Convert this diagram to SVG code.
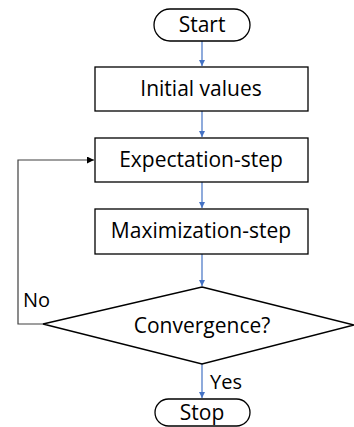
<svg xmlns="http://www.w3.org/2000/svg" width="354" height="427" viewBox="0 0 354 427">
  <style>
    .box { fill: #ffffff; stroke: #000000; stroke-width: 1.3; }
    .lbl { font-family: "Open Sans", "Liberation Sans", sans-serif; font-size: 21px; fill: #000000; text-anchor: middle; }
    .side { font-family: "Open Sans", "Liberation Sans", sans-serif; font-size: 20px; fill: #000000; }
    .flow { stroke: #4472c4; stroke-width: 1.2; fill: none; }
    .loop { stroke: #404040; stroke-width: 1.2; fill: none; }
  </style>
  <defs>
    <marker id="blueHead" viewBox="0 0 10 10" refX="10" refY="5" markerWidth="6" markerHeight="6" orient="auto" markerUnits="userSpaceOnUse">
      <path d="M0,0 L10,5 L0,10 z" fill="#4472c4"/>
    </marker>
    <marker id="blackHead" viewBox="0 0 10 10" refX="10" refY="5" markerWidth="7" markerHeight="7" orient="auto" markerUnits="userSpaceOnUse">
      <path d="M0,0 L10,5 L0,10 z" fill="#000000"/>
    </marker>
  </defs>

  <g id="connectors">
    <line class="flow" x1="202" y1="41" x2="202" y2="66" marker-end="url(#blueHead)"/>
    <line class="flow" x1="202" y1="111" x2="202" y2="137" marker-end="url(#blueHead)"/>
    <line class="flow" x1="202" y1="182" x2="202" y2="208" marker-end="url(#blueHead)"/>
    <line class="flow" x1="202" y1="254" x2="202" y2="286" marker-end="url(#blueHead)"/>
    <line class="flow" x1="202" y1="364" x2="202" y2="398" marker-end="url(#blueHead)"/>
    <polyline class="loop" points="43,324 18,324 18,160 94,160" marker-end="url(#blackHead)"/>
  </g>

  <g id="start">
    <rect class="box" x="154" y="9" width="96" height="32" rx="16" ry="16"/>
    <text class="lbl" x="202" y="32">Start</text>
  </g>

  <g id="initial-values">
    <rect class="box" x="95" y="67" width="213" height="44"/>
    <text class="lbl" x="201" y="96">Initial values</text>
  </g>

  <g id="expectation-step">
    <rect class="box" x="95" y="138" width="213" height="44"/>
    <text class="lbl" x="201" y="167">Expectation-step</text>
  </g>

  <g id="maximization-step">
    <rect class="box" x="95" y="209" width="213" height="45"/>
    <text class="lbl" x="201" y="238">Maximization-step</text>
  </g>

  <g id="convergence">
    <polygon class="box" points="202,287 354,325 202,364 43,324"/>
    <text class="lbl" x="202" y="333">Convergence?</text>
  </g>

  <g id="stop">
    <rect class="box" x="155" y="399" width="95" height="27" rx="13.5" ry="13.5"/>
    <text class="lbl" x="202" y="420">Stop</text>
  </g>

  <g id="branch-labels">
    <text class="side" x="23" y="307">No</text>
    <text class="side" x="210" y="389">Yes</text>
  </g>
</svg>
